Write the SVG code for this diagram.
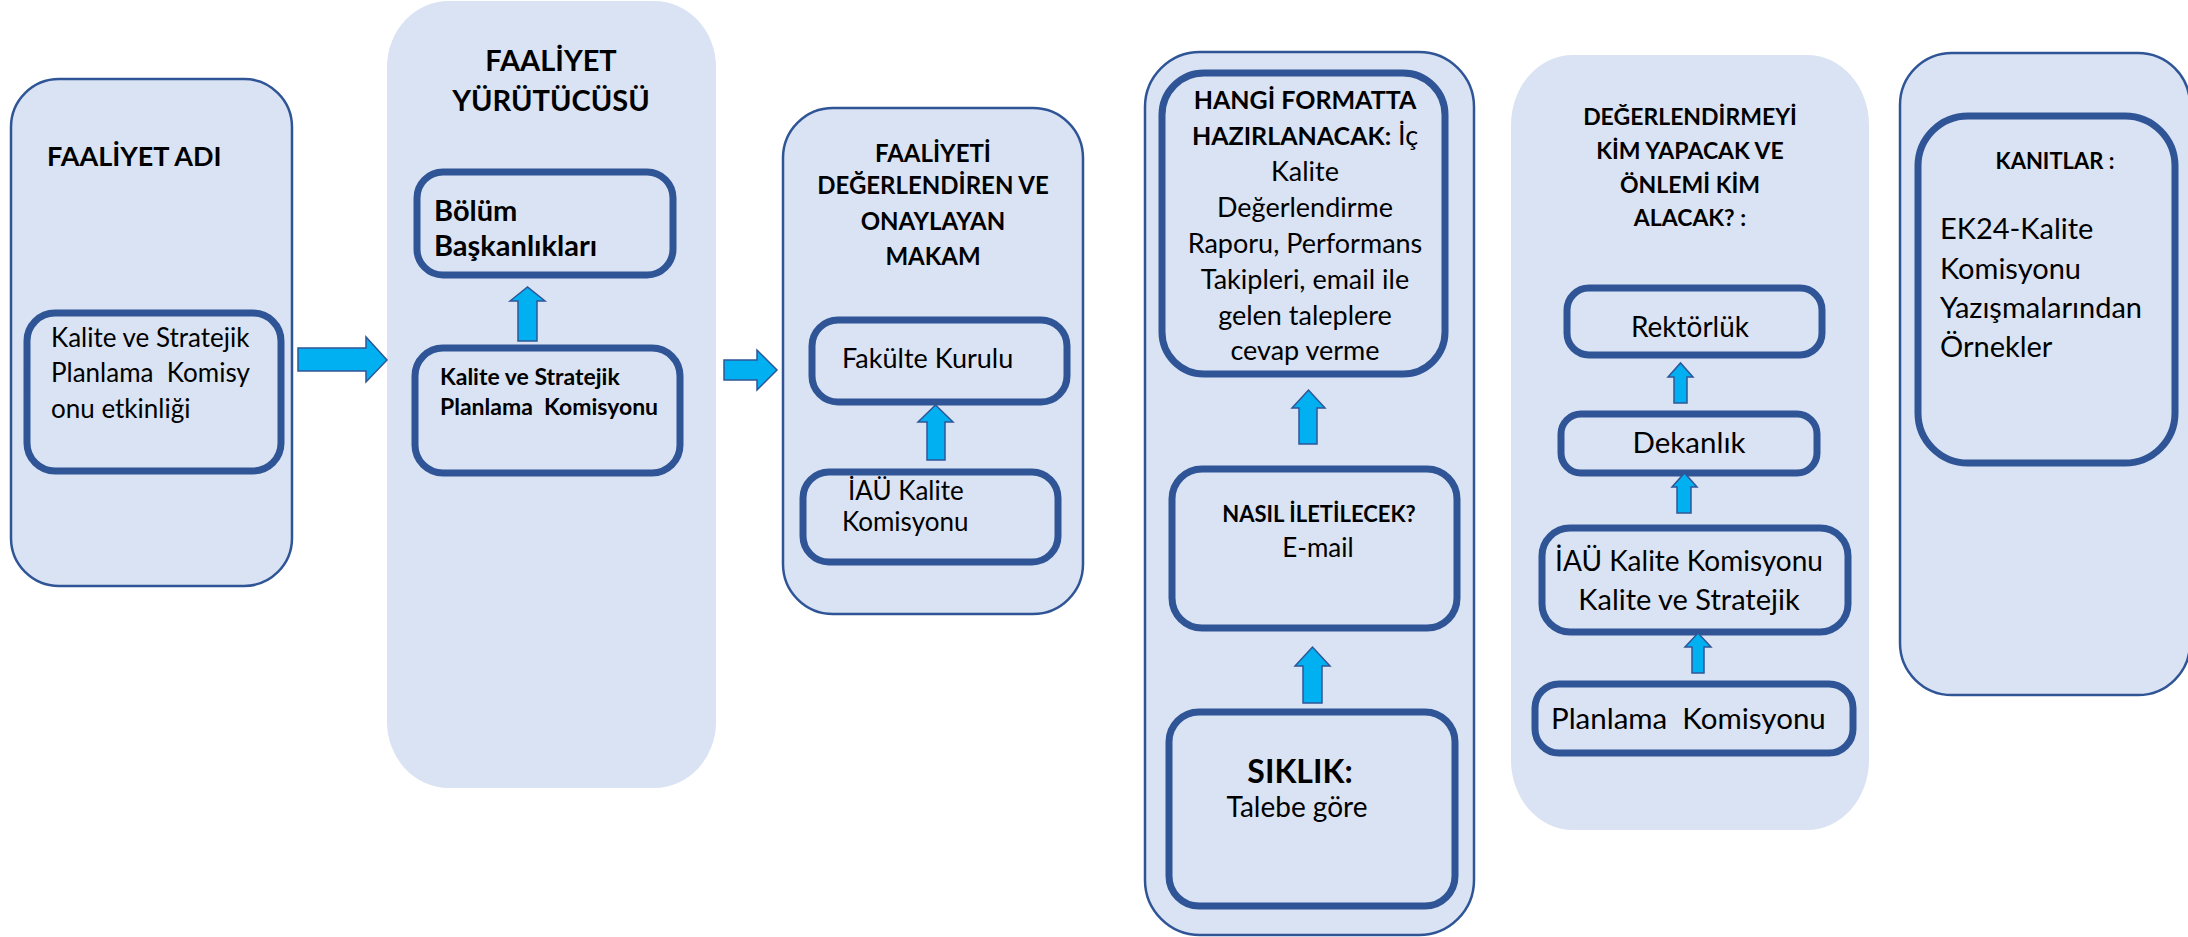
<svg xmlns="http://www.w3.org/2000/svg" width="2188" height="937" viewBox="0 0 2188 937">
<style>
.panel{fill:#DAE3F3;stroke:#2F5597;stroke-width:2.5}
.panel-nb{fill:#DAE3F3;stroke:none}
.box{fill:#DAE3F3;stroke:#2F5597;stroke-width:7}
.arr{fill:#00B0F0;stroke:#2F5597;stroke-width:1.5;stroke-linejoin:miter}
text{font-family:Lato,"Open Sans","Liberation Sans",sans-serif;fill:#000;white-space:pre}
.b{font-weight:bold}
.c{text-anchor:middle}
</style>
<rect width="2188" height="937" fill="#FFFFFF"/>

<g id="panel-faaliyet-adi">
<rect class="panel" x="11" y="79" width="281" height="507" rx="48" ry="48"/>
<text class="b" x="47" y="166" font-size="27">FAALİYET ADI</text>
<g id="node-kalite-etkinligi">
<rect class="box" x="27" y="313" width="254" height="158" rx="28" ry="28"/>
<text x="51" y="347" font-size="26">Kalite ve Stratejik</text>
<text x="51" y="382" font-size="26">Planlama  Komisy</text>
<text x="51" y="418" font-size="26">onu etkinliği</text>
</g>
</g>

<g id="panel-faaliyet-yurutucusu">
<rect class="panel-nb" x="387" y="1" width="329" height="787" rx="62" ry="66"/>
<text class="b c" x="551" y="71" font-size="29">FAALİYET</text>
<text class="b c" x="551" y="111" font-size="29">YÜRÜTÜCÜSÜ</text>
<g id="node-bolum-baskanliklari">
<rect class="box" x="417" y="172" width="256" height="103" rx="26" ry="26"/>
<text class="b" x="434" y="221" font-size="29">Bölüm</text>
<text class="b" x="434" y="256" font-size="29">Başkanlıkları</text>
</g>
<g id="node-kalite-komisyonu-1">
<rect class="box" x="415" y="348" width="265" height="125" rx="28" ry="28"/>
<text class="b" x="440" y="385" font-size="23">Kalite ve Stratejik</text>
<text class="b" x="440" y="415" font-size="23">Planlama  Komisyonu</text>
</g>
</g>

<g id="panel-degerlendiren">
<rect class="panel" x="783" y="108" width="300" height="506" rx="50" ry="50"/>
<text class="b c" x="933" y="162" font-size="24">FAALİYETİ</text>
<text class="b c" x="933" y="194" font-size="24">DEĞERLENDİREN VE</text>
<text class="b c" x="933" y="230" font-size="24">ONAYLAYAN</text>
<text class="b c" x="933" y="265" font-size="24">MAKAM</text>
<g id="node-fakulte-kurulu">
<rect class="box" x="812" y="320" width="255" height="82" rx="26" ry="26"/>
<text x="842" y="368" font-size="27">Fakülte Kurulu</text>
</g>
<g id="node-iau-kalite-1">
<rect class="box" x="803" y="472" width="255" height="90" rx="26" ry="26"/>
<text x="848" y="500" font-size="26">İAÜ Kalite</text>
<text x="842" y="531" font-size="26">Komisyonu</text>
</g>
</g>

<g id="panel-format">
<rect class="panel" x="1145" y="52" width="329" height="883" rx="55" ry="55"/>
<g id="node-hangi-format">
<rect class="box" x="1162" y="73" width="283" height="301" rx="42" ry="42"/>
<text class="b c" x="1305" y="109" font-size="25">HANGİ FORMATTA</text>
<text class="c" x="1305" y="145" font-size="27"><tspan class="b" font-size="25">HAZIRLANACAK:</tspan> İç</text>
<text class="c" x="1305" y="181" font-size="27">Kalite</text>
<text class="c" x="1305" y="217" font-size="27">Değerlendirme</text>
<text class="c" x="1305" y="253" font-size="27">Raporu, Performans</text>
<text class="c" x="1305" y="289" font-size="27">Takipleri, email ile</text>
<text class="c" x="1305" y="325" font-size="27">gelen taleplere</text>
<text class="c" x="1305" y="360" font-size="27">cevap verme</text>
</g>
<g id="node-nasil">
<rect class="box" x="1172" y="469" width="285" height="159" rx="30" ry="30"/>
<text class="b c" x="1319" y="522" font-size="22">NASIL İLETİLECEK?</text>
<text class="c" x="1318" y="557" font-size="26">E-mail</text>
</g>
<g id="node-siklik">
<rect class="box" x="1169" y="712" width="286" height="194" rx="30" ry="30"/>
<text class="b c" x="1300" y="783" font-size="32">SIKLIK:</text>
<text class="c" x="1297" y="817" font-size="28">Talebe göre</text>
</g>
</g>

<g id="panel-degerlendirme">
<rect class="panel-nb" x="1511" y="55" width="358" height="775" rx="62" ry="70"/>
<text class="b c" x="1690" y="125" font-size="23">DEĞERLENDİRMEYİ</text>
<text class="b c" x="1690" y="159" font-size="23">KİM YAPACAK VE</text>
<text class="b c" x="1690" y="193" font-size="23">ÖNLEMİ KİM</text>
<text class="b c" x="1690" y="226" font-size="23">ALACAK? :</text>
<g id="node-rektorluk">
<rect class="box" x="1567" y="288" width="255" height="67" rx="22" ry="22"/>
<text class="c" x="1690" y="337" font-size="28">Rektörlük</text>
</g>
<g id="node-dekanlik">
<rect class="box" x="1561" y="414" width="256" height="59" rx="20" ry="20"/>
<text class="c" x="1689" y="453" font-size="29.5">Dekanlık</text>
</g>
<g id="node-iau-kalite-2">
<rect class="box" x="1542" y="528" width="306" height="104" rx="28" ry="28"/>
<text class="c" x="1689" y="571" font-size="28">İAÜ Kalite Komisyonu</text>
<text class="c" x="1689" y="610" font-size="29">Kalite ve Stratejik</text>
</g>
<g id="node-planlama">
<rect class="box" x="1535" y="684" width="318" height="69" rx="24" ry="24"/>
<text x="1551" y="729" font-size="29.5">Planlama  Komisyonu</text>
</g>
</g>

<g id="panel-kanitlar">
<rect class="panel" x="1900" y="53" width="290" height="642" rx="52" ry="52"/>
<g id="node-kanitlar">
<rect class="box" x="1918" y="116" width="257" height="347" rx="50" ry="50"/>
<text class="b c" x="2055" y="169" font-size="22">KANITLAR :</text>
<text x="1940" y="239" font-size="29">EK24-Kalite</text>
<text x="1940" y="279" font-size="29">Komisyonu</text>
<text x="1940" y="318" font-size="29">Yazışmalarından</text>
<text x="1940" y="357" font-size="29">Örnekler</text>
</g>
</g>

<g id="connectors">
<path class="arr" d="M298,348 L366,348 L366,337 L387,360 L366,382 L366,371 L298,371 Z"/>
<path class="arr" d="M724,360 L757,360 L757,350 L777,370 L757,390 L757,380 L724,380 Z"/>
<path class="arr" d="M518,341 L518,301 L510,301 L527.5,287 L545,301 L537,301 L537,341 Z"/>
<path class="arr" d="M927,460 L927,422 L918,422 L935.5,405 L953,422 L945,422 L945,460 Z"/>
<path class="arr" d="M1299,444 L1299,408 L1292,408 L1308.5,390 L1325,408 L1317,408 L1317,444 Z"/>
<path class="arr" d="M1303,703 L1303,666 L1295,666 L1312.5,647 L1330,666 L1322,666 L1322,703 Z"/>
<path class="arr" d="M1674,403 L1674,377 L1668,377 L1680.5,363 L1693,377 L1687,377 L1687,403 Z"/>
<path class="arr" d="M1677,513 L1677,487 L1672,487 L1684.5,473 L1697,487 L1691,487 L1691,513 Z"/>
<path class="arr" d="M1692,673 L1692,647 L1685,647 L1698,633 L1711,647 L1704,647 L1704,673 Z"/>
</g>
</svg>
